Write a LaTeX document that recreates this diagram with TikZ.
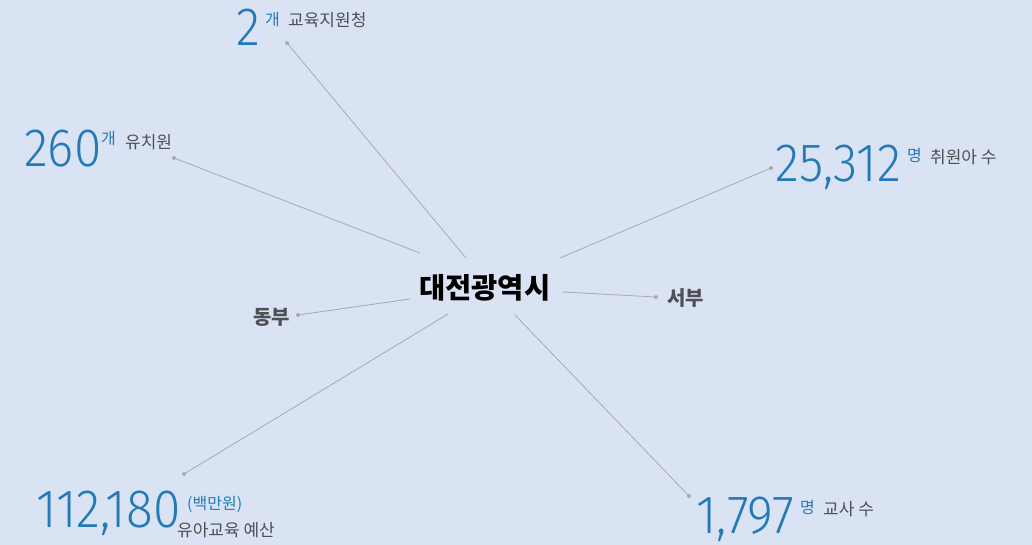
\documentclass[tikz,border=0pt]{standalone}
\usepackage{fontspec}
\usepackage{graphicx}
\newfontfamily\kr{Noto Sans CJK KR}
\newfontfamily\numfont{Fira Sans Light}
\definecolor{bg}{RGB}{218,227,243}
\definecolor{numblue}{RGB}{36,122,182}
\definecolor{labgray}{RGB}{78,80,84}
\definecolor{linegray}{RGB}{168,170,176}
\newcommand{\bignum}[1]{\scalebox{0.92}[1]{#1}}
\begin{document}
\begin{tikzpicture}[x=1pt,y=-1pt,
  num/.style={anchor=base west, inner sep=0pt, text=numblue, font=\numfont\fontsize{54}{54}\selectfont},
  unit/.style={anchor=base west, inner sep=0pt, text=numblue, font=\kr\fontsize{16}{16}\selectfont},
  lab/.style={anchor=base west, inner sep=0pt, text=labgray, font=\kr\fontsize{17}{17}\selectfont},
  region/.style={anchor=base west, inner sep=0pt, text=labgray, font=\kr\bfseries\fontsize{20}{20}\selectfont},
  center/.style={anchor=base west, inner sep=0pt, text=black, font=\kr\bfseries\fontsize{28.5}{28.5}\selectfont},
  dot/.style={circle, fill=linegray, inner sep=0pt, minimum size=4pt},
  conn/.style={draw=linegray, line width=0.8pt}]
\fill[bg] (0,0) rectangle (1032,545);
\useasboundingbox (0,0) rectangle (1032,545);

% centre
\node[center] (c) at (419,298) {대전광역시};

% 교육지원청
\node[num] (n1) at (236,46) {\bignum{2}};
\node[unit] (u1) at (265,26) {개};
\node[lab] (l1) at (288,27) {교육지원청};
\node[dot] (d1) at (287,43) {};
\coordinate (e1) at (466,258);

% 유치원
\node[num] (n2) at (24,167) {\bignum{260}};
\node[unit] (u2) at (101,145) {개};
\node[lab] (l2) at (125,149) {유치원};
\node[dot] (d2) at (174,158) {};
\coordinate (e2) at (420,253);

% 취원아 수
\node[num] (n3) at (775,182) {\bignum{25,312}};
\node[unit] (u3) at (907,162) {명};
\node[lab] (l3) at (930,164) {취원아 수};
\node[dot] (d3) at (771,168) {};
\coordinate (e3) at (560,258);

% 서부
\node[region] (w) at (667,305) {서부};
\node[dot] (d4) at (656,297) {};
\coordinate (e4) at (563,292);

% 동부
\node[region] (ea) at (253,324) {동부};
\node[dot] (d5) at (298,315) {};
\coordinate (e5) at (410,299);

% 유아교육 예산
\node[num] (n6) at (36,527) {\bignum{112,180}};
\node[unit] (u6) at (187,509) {(백만원)};
\node[lab] (l6) at (177,536) {유아교육 예산};
\node[dot] (d6) at (184,474) {};
\coordinate (e6) at (448,314);

% 교사 수
\node[num] (n7) at (696,533) {\bignum{1,797}};
\node[unit] (u7) at (800,513) {명};
\node[lab] (l7) at (823,515) {교사 수};
\node[dot] (d7) at (689,496) {};
\coordinate (e7) at (515,315);

\draw[conn] (d1.center) -- (e1);
\draw[conn] (d2.center) -- (e2);
\draw[conn] (d3.center) -- (e3);
\draw[conn] (d4.center) -- (e4);
\draw[conn] (d5.center) -- (e5);
\draw[conn] (d6.center) -- (e6);
\draw[conn] (d7.center) -- (e7);
\end{tikzpicture}
\end{document}
